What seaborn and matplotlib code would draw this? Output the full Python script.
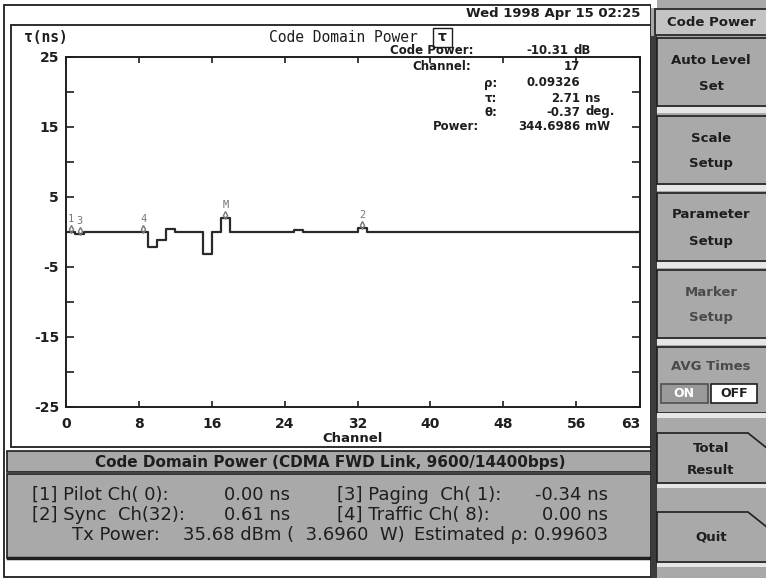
import matplotlib
matplotlib.use("Agg")
import matplotlib.pyplot as plt
from matplotlib.patches import Rectangle, Polygon
import seaborn as sns
import pandas as pd

# tau (ns) per Walsh channel
channels = list(range(64))
tau = [0.0, -0.3, 0.0, 0.0, 0.0, 0.0, 0.0, 0.0,
       0.0, -2.1, -1.2, 0.5, 0.0, 0.0, 0.0, -3.2,
       0.0, 2.0, 0.0, 0.0, 0.0, 0.0, 0.0, 0.0,
       0.0, 0.3, 0.0, 0.0, 0.0, 0.0, 0.0, 0.0,
       0.6, 0.0, 0.0, 0.0, 0.0, 0.0, 0.0, 0.0,
       0.0, 0.0, 0.0, 0.0, 0.0, 0.0, 0.0, 0.0,
       0.0, 0.0, 0.0, 0.0, 0.0, 0.0, 0.0, 0.0,
       0.0, 0.0, 0.0, 0.0, 0.0, 0.0, 0.0, 0.0]

# markers on the trace
marker_ch = [0, 1, 8, 17, 32]
marker_text = ["1", "3", "4", "M", "2"]

xticks = [0, 8, 16, 24, 32, 40, 48, 56, 63]
xtick_labels = ["0", "8", "16", "24", "32", "40", "48", "56", "63"]
yticks = [-25, -15, -5, 5, 15, 25]
ytick_labels = ["-25", "-15", "-5", "5", "15", "25"]
yminor = [-20, -10, 0, 10, 20]

# marker readout (top right of the graph)
read_labels = ["Code Power:", "Channel:", "ρ:", "τ:", "θ:", "Power:"]
read_values = ["-10.31", "17", "0.09326", "2.71", "-0.37", "344.6986"]
read_units = ["dB", "", "", "ns", "deg.", "mW"]

# result box text
res_left = ["[1] Pilot Ch( 0):", "[2] Sync  Ch(32):"]
res_left_val = ["0.00 ns", "0.61 ns"]
res_right = ["[3] Paging  Ch( 1):", "[4] Traffic Ch( 8):"]
res_right_val = ["-0.34 ns", "0.00 ns"]
tx_power = "35.68 dBm (  3.6960  W)"
est_rho = "Estimated ρ: 0.99603"

buttons = [("Code Power", ""), ("Auto Level", "Set"), ("Scale", "Setup"),
           ("Parameter", "Setup"), ("Marker", "Setup")]

GRAY = "#a9a9a9"
DARK = "#1e1e1e"
LIGHT = "#e6e6e6"
W, H = 766, 578

df = pd.DataFrame({"ch": channels, "tau": tau})

fig = plt.figure(figsize=(W / 100, H / 100), dpi=100)
fig.patch.set_facecolor("white")

# background canvas in pixel coords
bg = fig.add_axes([0, 0, 1, 1], zorder=0)
bg.set_xlim(0, W)
bg.set_ylim(H, 0)
bg.axis("off")

def box(x0, y0, x1, y1, fc=GRAY, ec=DARK, lw=1.2, z=1):
    bg.add_patch(Rectangle((x0, y0), x1 - x0, y1 - y0, facecolor=fc,
                           edgecolor=ec, linewidth=lw, zorder=z))

# frames around the graph
box(4, 5, 651, 577, fc="white", lw=1.3)
box(11, 25, 651, 447, fc="white", lw=1.3)

bold = dict(family="DejaVu Sans", weight="bold", color=DARK)
bg.text(640, 14, "Wed 1998 Apr 15 02:25", ha="right", va="center", fontsize=9.5, **bold)
bg.text(343, 37, "Code Domain Power", ha="center", va="center", fontsize=10.5,
        family="DejaVu Sans Mono", color=DARK)
box(433, 28, 452, 47, fc="white", lw=1.0)
bg.text(442.5, 37, "τ", ha="center", va="center", fontsize=10, **bold)
bg.text(24, 38, "τ(ns)", ha="left", va="center", fontsize=10.5,
        family="DejaVu Sans Mono", weight="bold", color=DARK)

lab_x = [473, 471, 497, 497, 497, 479]
val_x = [568, 580, 580, 580, 580, 580]
row_y = [50, 66, 83, 98, 112, 127]
for i in range(len(read_labels)):
    bg.text(lab_x[i], row_y[i], read_labels[i], ha="right", va="center", fontsize=8.5, **bold)
    bg.text(val_x[i], row_y[i], read_values[i], ha="right", va="center", fontsize=8.5, **bold)
    if read_units[i]:
        bg.text(val_x[i] + 5, row_y[i], read_units[i], ha="left", va="center", fontsize=8.5, **bold)

# bottom result panel
box(7, 451, 651, 472)
box(7, 474, 651, 558)
bg.plot([8, 651], [558, 558], color=DARK, lw=2.5, zorder=2)
narrow = dict(family="DejaVu Sans", color=DARK)
bg.text(330, 463, "Code Domain Power (CDMA FWD Link, 9600/14400bps)", ha="center",
        va="center", fontsize=11, weight="bold", **narrow)
ly = [495, 515]
for i in range(2):
    bg.text(32, ly[i], res_left[i], ha="left", va="center", fontsize=13, **narrow)
    bg.text(290, ly[i], res_left_val[i], ha="right", va="center", fontsize=13, **narrow)
    bg.text(337, ly[i], res_right[i], ha="left", va="center", fontsize=13, **narrow)
    bg.text(608, ly[i], res_right_val[i], ha="right", va="center", fontsize=13, **narrow)
bg.text(72, 535, "Tx Power:", ha="left", va="center", fontsize=13, **narrow)
bg.text(183, 535, tx_power, ha="left", va="center", fontsize=13, **narrow)
bg.text(608, 535, est_rho, ha="right", va="center", fontsize=13, **narrow)

# right soft-key column
box(651, 0, W + 2, H + 2, fc=GRAY, ec=GRAY, lw=0)
box(651, 0, 657, 8, fc="white", ec="white", lw=0, z=2)
box(651, 36, 657, H + 2, fc="#3c3c3c", ec="#3c3c3c", lw=0, z=2)
box(655, 9, W + 2, 35, fc="#c4c4c4", lw=1.2, z=2)
bg.text(711, 23, buttons[0][0], ha="center", va="center", fontsize=9.5, **bold)
tops = [38, 116, 193, 270]
for k, (t1, t2) in enumerate(buttons[1:]):
    y0 = tops[k]
    box(657, y0, W + 2, y0 + 68, lw=1.2, z=2)
    box(657, y0 + 69, W + 2, y0 + 75, fc=LIGHT, ec=LIGHT, lw=0, z=2)
    col = "#4a4a4a" if t1 == "Marker" else DARK
    bg.text(711, y0 + 22, t1, ha="center", va="center", fontsize=9.5,
            family="DejaVu Sans", weight="bold", color=col)
    bg.text(711, y0 + 48, t2, ha="center", va="center", fontsize=9.5,
            family="DejaVu Sans", weight="bold", color=col)

# AVG times block
box(657, 347, W + 2, 413, lw=1.2, z=2)
box(657, 413, W + 2, 418, fc=LIGHT, ec=LIGHT, lw=0, z=2)
bg.text(711, 366, "AVG Times", ha="center", va="center", fontsize=9.5,
        family="DejaVu Sans", weight="bold", color="#4a4a4a")
box(661, 384, 708, 403, fc="#9a9a9a", ec="#505050", lw=1.2, z=3)
box(711, 384, 757, 403, fc="white", ec=DARK, lw=1.2, z=3)
bg.text(684, 393.5, "ON", ha="center", va="center", fontsize=9,
        family="DejaVu Sans", weight="bold", color="white", zorder=4)
bg.text(734, 393.5, "OFF", ha="center", va="center", fontsize=9, zorder=4, **bold)

# notched keys
for y0, y1, t1, t2 in [(433, 483, "Total", "Result"), (512, 562, "Quit", "")]:
    bg.add_patch(Polygon([(657, y0), (748, y0), (W + 2, y0 + 16), (W + 2, y1), (657, y1)],
                         closed=True, facecolor=GRAY, edgecolor=DARK, linewidth=1.2, zorder=2))
    box(657, y1 + 1, W + 2, y1 + 5, fc=LIGHT, ec=LIGHT, lw=0, z=2)
    if t2:
        bg.text(711, y0 + 15, t1, ha="center", va="center", fontsize=9.5, **bold)
        bg.text(711, y0 + 37, t2, ha="center", va="center", fontsize=9.5, **bold)
    else:
        bg.text(711, y0 + 25, t1, ha="center", va="center", fontsize=9.5, **bold)

# the graph itself
ax = fig.add_axes([66 / W, 1 - 407 / H, 574 / W, 350 / H], zorder=2)
ax.set_facecolor("none")
sns.lineplot(data=df, x="ch", y="tau", drawstyle="steps-post", color="#2a2a2a",
             linewidth=1.6, ax=ax, legend=False)
for c, t in zip(marker_ch, marker_text):
    ax.plot(c + 0.5, tau[c] + 0.4, marker="d", ms=4, mfc="none", mec="#777777", mew=1)
    ax.text(c + 0.5, tau[c] + 1.9, t, ha="center", va="center", fontsize=7.5,
            color="#777777", family="DejaVu Sans Mono")

ax.set_xlim(0, 63)
ax.set_ylim(-25, 25)
ax.set_xticks(xticks)
ax.set_xticklabels(xtick_labels)
ax.set_yticks(yticks)
ax.set_yticklabels(ytick_labels)
ax.set_yticks(yminor, minor=True)
ax.tick_params(axis="both", which="both", direction="in", top=True, right=True,
               colors=DARK, width=1.2)
ax.tick_params(axis="y", which="both", length=6, pad=5)
ax.tick_params(axis="x", length=4, pad=7)
for lab in ax.get_xticklabels() + ax.get_yticklabels():
    lab.set_family("DejaVu Sans")
    lab.set_weight("bold")
    lab.set_fontsize(10)
ax.get_xticklabels()[-1].set_ha("right")
ax.set_xlabel("Channel", fontsize=9.5, family="DejaVu Sans", weight="bold",
              color=DARK, labelpad=1)
ax.set_ylabel("")
for s in ax.spines.values():
    s.set_color(DARK)
    s.set_linewidth(1.4)

fig.savefig("out.png", dpi=100)
